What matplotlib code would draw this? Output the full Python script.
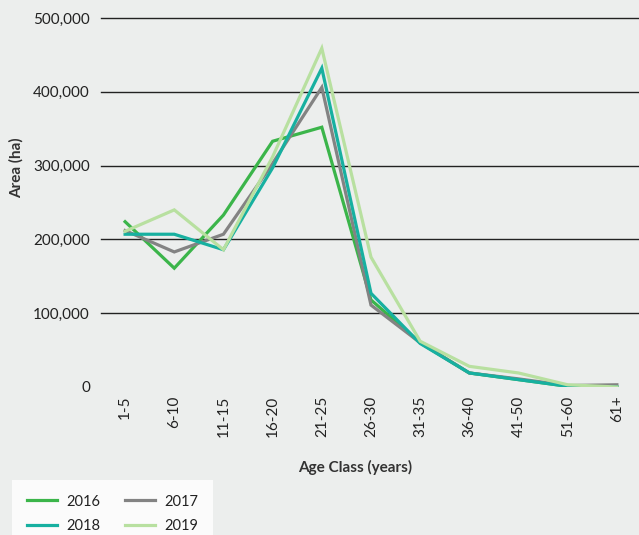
import matplotlib
matplotlib.use("Agg")
import matplotlib.pyplot as plt
from matplotlib.ticker import FuncFormatter

# ---------------------------------------------------------------------------
# Data
# ---------------------------------------------------------------------------

age_classes = ["1-5", "6-10", "11-15", "16-20", "21-25", "26-30",
               "31-35", "36-40", "41-50", "51-60", "61+"]

area_2016 = [224000, 161000, 233000, 333000, 352000, 118000,
             60000, 19000, 10000, 1000, 0]
area_2017 = [212000, 183000, 207000, 303000, 406000, 111000,
             60000, 19000, 11000, 2000, 3000]
area_2018 = [207000, 207000, 186000, 297000, 432000, 127000,
             59000, 19000, 10000, 1000, 0]
area_2019 = [211000, 240000, 186000, 312000, 459000, 176000,
             62000, 28000, 19000, 3000, 0]

series = {"2016": area_2016, "2017": area_2017,
          "2018": area_2018, "2019": area_2019}
colors = {"2016": "#3bb54a", "2017": "#838383",
          "2018": "#17b0a0", "2019": "#b8e0a0"}

yticks = [0, 100000, 200000, 300000, 400000, 500000]

# ---------------------------------------------------------------------------
# Plot
# ---------------------------------------------------------------------------

plt.rcParams["font.family"] = ["Lato", "DejaVu Sans"]
bg = "#eceeed"

W, H = 639, 535
fig = plt.figure(figsize=(W / 100, H / 100), dpi=100, facecolor=bg)
ax = fig.add_axes([101 / W, (H - 387) / H, (639 - 101) / W, (387 - 18) / H])
ax.set_facecolor(bg)

x = range(len(age_classes))
lines = {}
for year, values in series.items():
    lines[year], = ax.plot(x, values, color=colors[year], lw=2.3, label=year,
                           solid_joinstyle="miter", zorder=3)

ax.set_xlim(-0.49, 10.45)
ax.set_ylim(0, 500000)
ax.set_xticks(list(x))
ax.set_xticklabels(age_classes, rotation=90, fontsize=11, color="#222222")
ax.set_yticks(yticks)
ax.yaxis.set_major_formatter(FuncFormatter(lambda v, p: f"{int(v):,}"))
ax.tick_params(axis="y", length=0, pad=8, labelsize=11, labelcolor="#222222")
ax.tick_params(axis="x", length=0, pad=6)

for v in yticks[1:]:
    ax.axhline(v, color="#222222", lw=1.0, zorder=1, clip_on=False)
for s in ax.spines.values():
    s.set_visible(False)

fig.text(16 / W, (H - 168) / H, "Area (ha)", rotation=90, fontsize=11,
         fontweight="bold", color="#333333", ha="center", va="center")
fig.text(355 / W, (H - 467) / H, "Age Class (years)", fontsize=11,
         fontweight="bold", color="#333333", ha="center", va="center")

# legend is filled column by column, so order gives rows 2016/2017, 2018/2019
order = ["2016", "2018", "2017", "2019"]
leg = fig.legend([lines[k] for k in order], order,
                 loc="upper left", bbox_to_anchor=(12 / W, (H - 480) / H),
                 ncol=2, fontsize=10.5, frameon=True, fancybox=False,
                 handlelength=2.1, handletextpad=0.6, columnspacing=1.7,
                 borderpad=1.0, labelspacing=0.7, borderaxespad=0)
leg.get_frame().set_facecolor("white")
leg.get_frame().set_edgecolor("none")
for t in leg.get_texts():
    t.set_color("#222222")

plt.savefig("out.png", dpi=100, facecolor=bg)
